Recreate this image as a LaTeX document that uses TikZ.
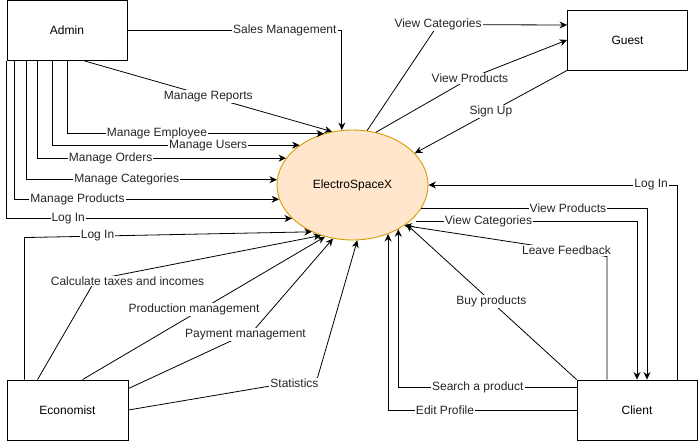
\documentclass[tikz,border=0pt]{standalone}
\usepackage{fontspec}
\setmainfont{Liberation Sans}
\usetikzlibrary{shapes.geometric, arrows.meta, positioning, calc}
\definecolor{procfill}{HTML}{FFE6CC}
\definecolor{procline}{HTML}{D79B00}

\begin{document}
\begin{tikzpicture}[
            x=1pt, y=-1pt,
            font=\fontsize{12}{14}\selectfont,
            actor/.style={rectangle, draw=black, line width=0.9pt, fill=white, minimum width=120pt, minimum height=60pt, inner sep=0pt},
            proc/.style={ellipse, draw=procline, fill=procfill, line width=0.9pt, minimum width=151pt, minimum height=110pt, inner sep=0pt},
            flow/.style={-{Stealth[length=7.5pt, width=7pt]}, line width=0.8pt, draw=black},
            lbl/.style={fill=white, inner sep=1pt, text=black!85}
        ]
    \useasboundingbox (0,0) rectangle (698,441);

        \node[proc] (esx) at (352.5,185) {ElectroSpaceX};
        \node[actor] (admin) at (67,30.5) {Admin};
        \node[actor] (guest) at (627.5,40) {Guest};
        \node[actor, minimum width=121pt] (econ) at (67.5,410) {Economist};
        \node[actor] (client) at (637,410) {Client};

        % admin
        \draw[flow] (admin.east) -| node[lbl, pos=0.367] {Sales Management} (esx.101.9);
        \draw[flow] ([xshift=78pt]admin.south west) -- node[lbl] {Manage Reports} (esx.111.5);
        \draw[flow] (admin.south) |- node[lbl, pos=0.675] {Manage Employee} (esx.119);
        \draw[flow] ([xshift=46pt]admin.south west) |- node[lbl, pos=0.815] {Manage Users} (esx.143.8);
        \draw[flow] ([xshift=31pt]admin.south west) |- node[lbl, pos=0.647] {Manage Orders} (esx.158.6);
        \draw[flow] ([xshift=20pt]admin.south west) |- node[lbl, pos=0.70] {Manage Categories} (esx.176.2);
        \draw[flow] ([xshift=8pt]admin.south west) |- node[lbl, pos=0.619] {Manage Products} (esx.191.7);
        \draw[flow] (admin.south west) |- node[lbl, pos=0.608] {Log In} (esx.209.8);

        % economist
        \draw[flow] ([xshift=18pt]econ.north west) -- ++(0,-142) -- node[lbl, pos=0.254] {Log In} (esx.229.3);
        \draw[flow] ([xshift=31pt]econ.north west) -- ++(58,-100) node[lbl, xshift=32pt, yshift=-1.5pt] {Calculate taxes and incomes} -- (esx.238);
        \draw[flow] ([xshift=76pt]econ.north west) -- node[lbl, pos=0.46, yshift=4pt] {Production management} (esx.242.6);
        \draw[flow] ([yshift=-9pt]econ.north east) -- ++(125,-58) node[lbl, xshift=-8pt, yshift=-4pt] {Payment management} -- (esx.250.8);
        \draw[flow] (econ.east) -- ++(189,-32) node[lbl, xshift=-23pt, yshift=-5pt] {Statistics} -- (esx.275.7);

        % guest
        \draw[flow] (esx.75.2) -- ++(71,-106) node[lbl] {View Categories} -- ([yshift=15pt]guest.west);
        \draw[flow] (esx.66) -- ++(94,-54) node[lbl] {View Products} -- (guest.west);
        \draw[flow] (guest.south west) -- node[lbl] {Sign Up} (esx.27.5);

        % client
        \draw[flow] ([xshift=40pt]client.north) |- node[lbl, pos=0.552] {Log In} (esx.east);
        \draw[flow] (esx.341.5) -| node[lbl, pos=0.325] {View Products} ([xshift=10pt]client.north);
        \draw[flow, shorten <=7pt] (esx.327.8) -| node[lbl, pos=0.174] {View Categories} (client.north);
        \draw[flow] ([xshift=-30pt]client.north) -- ++(0,-123) -- node[lbl, pos=0.2] {Leave Feedback} (esx.322.9);
        \draw[flow] (client.north west) -- node[lbl] {Buy products} (esx.324);
        \draw[flow] ([yshift=23pt]client.west) -| node[lbl, pos=0.277] {Search a product} (esx.316);
        \draw[flow] (client.west) -| node[lbl, pos=0.349] {Edit Profile} (esx.306.2);

\end{tikzpicture}
\end{document}
